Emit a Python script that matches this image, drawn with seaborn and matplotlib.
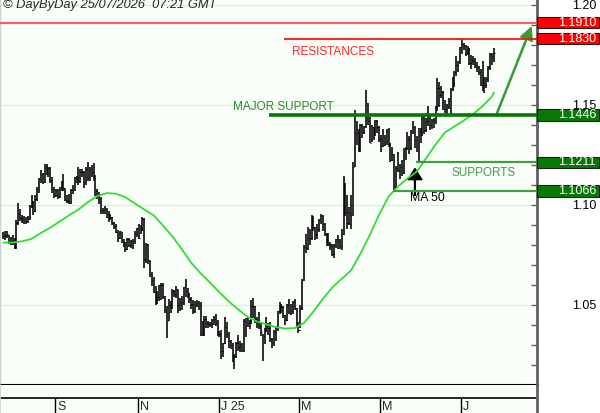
import numpy as np
import pandas as pd
import matplotlib
matplotlib.use("Agg")
import matplotlib.pyplot as plt
import matplotlib.transforms as mtransforms
from matplotlib.patches import Rectangle
import seaborn as sns

# daily bars, first session 24/07/2024 (one line per week)
highs = [
    1.0865, 1.0869, 1.0870,
    1.0848, 1.0840, 1.0848, 1.0833, 1.0925,
    1.1009, 1.0978, 1.0950, 1.0945, 1.0938,
    1.0945, 1.1000, 1.1047, 1.1018, 1.1048,
    1.1090, 1.1134, 1.1174, 1.1160, 1.1201,
    1.1202, 1.1190, 1.1188, 1.1140, 1.1090,
    1.1080, 1.1080, 1.1090, 1.1120, 1.1155,
    1.1080, 1.1050, 1.1055, 1.1080, 1.1100,
    1.1140, 1.1145, 1.1190, 1.1180, 1.1180,
    1.1170, 1.1190, 1.1214, 1.1190, 1.1200,
    1.1209, 1.1150, 1.1080, 1.1065, 1.1040,
    1.0985, 1.0995, 1.0985, 1.0970, 1.0955,
    1.0940, 1.0915, 1.0905, 1.0875, 1.0870,
    1.0865, 1.0830, 1.0815, 1.0835, 1.0835,
    1.0825, 1.0830, 1.0870, 1.0885, 1.0905,
    1.0900, 1.0937, 1.0935, 1.0810, 1.0805,
    1.0725, 1.0665, 1.0640, 1.0595, 1.0570,
    1.0600, 1.0610, 1.0610, 1.0545, 1.0495,
    1.0530, 1.0520, 1.0580, 1.0575, 1.0595,
    1.0575, 1.0535, 1.0545, 1.0590, 1.0630,
    1.0585, 1.0560, 1.0540, 1.0525, 1.0520,
    1.0525, 1.0520, 1.0515, 1.0420, 1.0445,
    1.0445, 1.0420, 1.0415, 1.0430, 1.0445,
    1.0455, 1.0425, 1.0370, 1.0375, 1.0310,
    1.0437, 1.0415, 1.0365, 1.0325, 1.0310,
    1.0255, 1.0315, 1.0350, 1.0320, 1.0310,
    1.0430, 1.0435, 1.0440, 1.0425, 1.0521,
    1.0533, 1.0495, 1.0440, 1.0465, 1.0410,
    1.0355, 1.0385, 1.0440, 1.0410, 1.0415,
    1.0335, 1.0375, 1.0395, 1.0470, 1.0515,
    1.0505, 1.0495, 1.0450, 1.0505, 1.0528,
    1.0505, 1.0520, 1.0530, 1.0485, 1.0415,
    1.0500, 1.0630, 1.0800, 1.0855, 1.0890,
    1.0880, 1.0947, 1.0945, 1.0890, 1.0905,
    1.0930, 1.0955, 1.0950, 1.0910, 1.0860,
    1.0860, 1.0815, 1.0805, 1.0805, 1.0830,
    1.0850, 1.0830, 1.0880, 1.1144, 1.1110,
    1.1050, 1.0990, 1.1050, 1.1215, 1.1474,
    1.1420, 1.1380, 1.1405, 1.1405, 1.1395,
    1.1573, 1.1510, 1.1440, 1.1400, 1.1390,
    1.1425, 1.1425, 1.1395, 1.1350, 1.1380,
    1.1350, 1.1380, 1.1385, 1.1310, 1.1290,
    1.1250, 1.1195, 1.1265, 1.1205, 1.1225,
    1.1285, 1.1290, 1.1365, 1.1345, 1.1375,
    1.1420, 1.1395, 1.1345, 1.1385, 1.1385,
    1.1455, 1.1445, 1.1435, 1.1495, 1.1450,
    1.1430, 1.1435, 1.1495, 1.1631, 1.1615,
    1.1595, 1.1570, 1.1525, 1.1505, 1.1535,
    1.1585, 1.1640, 1.1670, 1.1745, 1.1720,
    1.1790, 1.1830, 1.1810, 1.1800, 1.1795,
    1.1785, 1.1750, 1.1745, 1.1735, 1.1715,
    1.1695, 1.1680, 1.1720, 1.1640, 1.1640,
    1.1695, 1.1760, 1.1760, 1.1785,
]
lows = [
    1.0826, 1.0825, 1.0835,
    1.0802, 1.0800, 1.0800, 1.0778, 1.0780,
    1.0900, 1.0918, 1.0910, 1.0905, 1.0905,
    1.0910, 1.0925, 1.0985, 1.0950, 1.0963,
    1.1020, 1.1060, 1.1108, 1.1105, 1.1110,
    1.1150, 1.1140, 1.1110, 1.1060, 1.1035,
    1.1040, 1.1026, 1.1035, 1.1070, 1.1070,
    1.1020, 1.1010, 1.1002, 1.1001, 1.1055,
    1.1070, 1.1110, 1.1100, 1.1110, 1.1140,
    1.1085, 1.1100, 1.1120, 1.1120, 1.1140,
    1.1120, 1.1045, 1.1030, 1.1005, 1.0951,
    1.0955, 1.0955, 1.0935, 1.0915, 1.0925,
    1.0900, 1.0880, 1.0860, 1.0812, 1.0830,
    1.0810, 1.0790, 1.0761, 1.0775, 1.0790,
    1.0785, 1.0780, 1.0805, 1.0840, 1.0830,
    1.0855, 1.0870, 1.0683, 1.0710, 1.0705,
    1.0640, 1.0595, 1.0560, 1.0497, 1.0505,
    1.0520, 1.0525, 1.0530, 1.0460, 1.0335,
    1.0420, 1.0460, 1.0480, 1.0540, 1.0535,
    1.0460, 1.0470, 1.0475, 1.0500, 1.0540,
    1.0535, 1.0510, 1.0480, 1.0455, 1.0460,
    1.0490, 1.0475, 1.0345, 1.0345, 1.0345,
    1.0385, 1.0385, 1.0390, 1.0385, 1.0400,
    1.0395, 1.0345, 1.0340, 1.0226, 1.0240,
    1.0305, 1.0335, 1.0285, 1.0280, 1.0215,
    1.0178, 1.0235, 1.0270, 1.0265, 1.0265,
    1.0265, 1.0340, 1.0390, 1.0380, 1.0405,
    1.0435, 1.0410, 1.0385, 1.0380, 1.0345,
    1.0220, 1.0305, 1.0365, 1.0350, 1.0315,
    1.0285, 1.0295, 1.0320, 1.0370, 1.0455,
    1.0460, 1.0435, 1.0400, 1.0420, 1.0455,
    1.0450, 1.0455, 1.0475, 1.0385, 1.0360,
    1.0385, 1.0475, 1.0620, 1.0760, 1.0775,
    1.0800, 1.0825, 1.0870, 1.0825, 1.0830,
    1.0865, 1.0905, 1.0870, 1.0845, 1.0795,
    1.0795, 1.0775, 1.0745, 1.0735, 1.0785,
    1.0780, 1.0780, 1.0775, 1.0850, 1.0945,
    1.0880, 1.0900, 1.0880, 1.0945, 1.1190,
    1.1300, 1.1265, 1.1265, 1.1335, 1.1355,
    1.1385, 1.1400, 1.1310, 1.1315, 1.1325,
    1.1345, 1.1360, 1.1315, 1.1265, 1.1290,
    1.1295, 1.1300, 1.1290, 1.1215, 1.1220,
    1.1065, 1.1085, 1.1165, 1.1130, 1.1145,
    1.1155, 1.1225, 1.1275, 1.1255, 1.1275,
    1.1355, 1.1285, 1.1265, 1.1211, 1.1310,
    1.1345, 1.1355, 1.1365, 1.1395, 1.1375,
    1.1380, 1.1385, 1.1405, 1.1470, 1.1490,
    1.1535, 1.1475, 1.1460, 1.1445, 1.1480,
    1.1455, 1.1570, 1.1590, 1.1645, 1.1665,
    1.1705, 1.1755, 1.1775, 1.1745, 1.1750,
    1.1700, 1.1680, 1.1700, 1.1685, 1.1665,
    1.1650, 1.1595, 1.1570, 1.1556, 1.1585,
    1.1615, 1.1675, 1.1700, 1.1715,
]
closes = [
    1.0845, 1.0850, 1.0855,
    1.0820, 1.0817, 1.0825, 1.0790, 1.0910,
    1.0952, 1.0932, 1.0924, 1.0920, 1.0918,
    1.0932, 1.0993, 1.1012, 1.0967, 1.1028,
    1.1077, 1.1128, 1.1152, 1.1114, 1.1192,
    1.1160, 1.1184, 1.1121, 1.1077, 1.1048,
    1.1073, 1.1045, 1.1087, 1.1112, 1.1085,
    1.1025, 1.1018, 1.1011, 1.1075, 1.1075,
    1.1133, 1.1131, 1.1118, 1.1161, 1.1163,
    1.1111, 1.1179, 1.1132, 1.1177, 1.1165,
    1.1135, 1.1069, 1.1043, 1.1030, 1.0974,
    1.0975, 1.0980, 1.0940, 1.0935, 1.0937,
    1.0909, 1.0891, 1.0861, 1.0835, 1.0866,
    1.0818, 1.0797, 1.0779, 1.0828, 1.0797,
    1.0818, 1.0817, 1.0856, 1.0884, 1.0834,
    1.0877, 1.0930, 1.0730, 1.0801, 1.0719,
    1.0654, 1.0624, 1.0565, 1.0530, 1.0540,
    1.0597, 1.0596, 1.0543, 1.0473, 1.0418,
    1.0496, 1.0489, 1.0567, 1.0555, 1.0577,
    1.0497, 1.0507, 1.0513, 1.0587, 1.0567,
    1.0553, 1.0527, 1.0501, 1.0467, 1.0500,
    1.0510, 1.0494, 1.0353, 1.0366, 1.0430,
    1.0407, 1.0403, 1.0403, 1.0424, 1.0427,
    1.0408, 1.0354, 1.0354, 1.0266, 1.0308,
    1.0388, 1.0351, 1.0317, 1.0300, 1.0244,
    1.0245, 1.0307, 1.0289, 1.0301, 1.0271,
    1.0418, 1.0432, 1.0408, 1.0414, 1.0495,
    1.0493, 1.0430, 1.0424, 1.0392, 1.0362,
    1.0344, 1.0380, 1.0403, 1.0383, 1.0330,
    1.0307, 1.0361, 1.0384, 1.0466, 1.0493,
    1.0487, 1.0446, 1.0422, 1.0498, 1.0459,
    1.0467, 1.0515, 1.0485, 1.0398, 1.0375,
    1.0484, 1.0623, 1.0790, 1.0785, 1.0833,
    1.0835, 1.0919, 1.0888, 1.0855, 1.0879,
    1.0923, 1.0944, 1.0903, 1.0852, 1.0816,
    1.0801, 1.0791, 1.0754, 1.0800, 1.0829,
    1.0817, 1.0794, 1.0852, 1.1052, 1.0961,
    1.0909, 1.0958, 1.0950, 1.1190, 1.1358,
    1.1357, 1.1285, 1.1398, 1.1364, 1.1393,
    1.1510, 1.1420, 1.1310, 1.1390, 1.1363,
    1.1420, 1.1386, 1.1329, 1.1292, 1.1298,
    1.1315, 1.1370, 1.1302, 1.1225, 1.1254,
    1.1090, 1.1185, 1.1172, 1.1190, 1.1162,
    1.1242, 1.1285, 1.1328, 1.1284, 1.1365,
    1.1386, 1.1325, 1.1291, 1.1370, 1.1347,
    1.1444, 1.1371, 1.1416, 1.1446, 1.1396,
    1.1420, 1.1425, 1.1488, 1.1585, 1.1548,
    1.1562, 1.1480, 1.1480, 1.1495, 1.1523,
    1.1580, 1.1610, 1.1664, 1.1700, 1.1719,
    1.1786, 1.1804, 1.1798, 1.1760, 1.1780,
    1.1710, 1.1725, 1.1720, 1.1700, 1.1690,
    1.1664, 1.1598, 1.1637, 1.1597, 1.1626,
    1.1690, 1.1753, 1.1745, 1.1760,
]

# 50-day moving average, read every 5th session (+ last one)
ma_step = 5
ma50 = [
    1.0810, 1.0810, 1.0816, 1.0828, 1.0858, 1.0884, 1.0915, 1.0946, 1.0975, 1.1012,
    1.1042, 1.1057, 1.1054, 1.1036, 1.1005, 1.0975, 1.0946, 1.0894, 1.0840, 1.0776,
    1.0708, 1.0656, 1.0609, 1.0561, 1.0515, 1.0475, 1.0438, 1.0415, 1.0401, 1.0387,
    1.0380, 1.0382, 1.0408, 1.0465, 1.0528, 1.0585, 1.0628, 1.0670, 1.0754, 1.0848,
    1.0950, 1.1040, 1.1090, 1.1130, 1.1165, 1.1232, 1.1300, 1.1360, 1.1390, 1.1420,
    1.1452, 1.1492, 1.1540, 1.1560,
]

price_ticks = [1.05, 1.10, 1.15, 1.20]
price_labels = ["1.05", "1.10", "1.15", "1.20"]
month_labels = ["S", "N", "J 25", "M", "M", "J"]
label_months = [9, 11, 1, 3, 5, 7]

levels = [1.1910, 1.1830, 1.1446, 1.1211, 1.1066]
level_text = ["1.1910", "1.1830", "1.1446", "1.1211", "1.1066"]
level_kind = ["res", "res", "major", "sup", "sup"]
level_start = [-2, 149.3, 141.4, 219.5, 207.5]

sns.set_theme(style="white")
plt.rcParams["font.family"] = ["Liberation Sans", "DejaVu Sans"]

n = len(closes)
df = pd.DataFrame({
    "date": pd.bdate_range("2024-07-24", periods=n),
    "pos": np.arange(n),
    "high": highs,
    "low": lows,
    "close": closes,
})
ma_pos = np.r_[np.arange(0, n, ma_step), n - 1]

bg = "#f9fef9"
line_style = {
    "res": [("#f06464", 1.6), ("#ff1010", 1.3)],
    "major": ("#067806", 2.6),
    "sup": ("#3f9f3f", 1.6),
}
box_color = {"res": "#ff0000", "major": "#087808", "sup": "#087808"}

fig = plt.figure(figsize=(6, 4.13), dpi=100)
fig.patch.set_facecolor("white")
ax = fig.add_axes([0, 28 / 413, 537 / 600, 385 / 413])
ax.set_facecolor(bg)

xlim = (-1.76, 283.95)
ax.set_xlim(*xlim)
ax.set_ylim(1.00975, 1.20225)

for v in price_ticks:
    ax.axhline(v, color="#d2f3d2", lw=0.8, zorder=0)

# price bars
ax.vlines(df["pos"], df["low"], df["high"], color="black", lw=1.15, zorder=3)
ax.hlines(df["close"], df["pos"], df["pos"] + 0.7, color="black", lw=0.8, zorder=3)

sns.lineplot(x=ma_pos, y=ma50, ax=ax, color="#33dd33", lw=1.3, zorder=4)

# support / resistance levels
res_i = 0
trans = mtransforms.blended_transform_factory(ax.transAxes, ax.transData)
for v, txt, kind, x0 in zip(levels, level_text, level_kind, level_start):
    if kind == "res":
        c, lw = line_style["res"][res_i]
        res_i += 1
    else:
        c, lw = line_style[kind]
    ax.hlines(v, x0, xlim[1], color=c, lw=lw, zorder=5)
    ax.add_patch(Rectangle((1.0, v - 0.0029), 62 / 537, 0.0058, transform=trans,
                           facecolor=box_color[kind], edgecolor="#202020", lw=0.8,
                           clip_on=False, zorder=6))
    ax.text(596 / 537, v, txt, transform=trans, ha="right", va="center",
            color="white", fontsize=9, clip_on=False, zorder=7)

ax.text(153.6, 1.1762, "RESISTANCES", color="#ff2a2a", fontsize=8.5, va="center")
ax.text(122.2, 1.1488, "MAJOR SUPPORT", color="#2a8a2a", fontsize=8.5, va="center")
ax.text(238.7, 1.1158, "SUPPORTS", color="#40a040", fontsize=8.5, va="center")
ax.text(216.4, 1.1032, "MA 50", color="black", fontsize=8.8, va="center")

ax.annotate("", xy=(219.0, 1.1180), xytext=(219.0, 1.1046),
            arrowprops=dict(facecolor="black", edgecolor="black", width=0.6,
                            headwidth=10, headlength=8, shrink=0))
ax.annotate("", xy=(280.8, 1.1885), xytext=(262.7, 1.1457), annotation_clip=False,
            arrowprops=dict(facecolor="#3a9a3a", edgecolor="#3a9a3a", width=0.8,
                            headwidth=9, headlength=9, shrink=0))

# right price axis
ax.set_xticks([])
ax.yaxis.tick_right()
ax.set_yticks(price_ticks)
ax.set_yticklabels(price_labels)
ax.set_yticks(np.arange(1.01, 1.205, 0.01), minor=True)
ax.tick_params(axis="y", which="both", direction="in", length=4, width=1,
               color="#606060", pad=43, labelsize=9, labelcolor="black")
for lab in ax.get_yticklabels():
    lab.set_horizontalalignment("right")

ax.spines["top"].set_visible(False)
ax.spines["left"].set_color("#d0d0d0")
ax.spines["left"].set_linewidth(1)
ax.spines["right"].set_color("#606060")
ax.spines["right"].set_linewidth(2)
ax.spines["bottom"].set_color("black")
ax.spines["bottom"].set_linewidth(1.5)

# month band
ax2 = fig.add_axes([0, 0, 537 / 600, 28 / 413])
ax2.set_facecolor(bg)
ax2.set_xlim(*xlim)
ax2.set_ylim(0, 1)
ax2.set_xticks([])
ax2.set_yticks([])
ax2.axhline(0.536, color="black", lw=1.2)
month = df["date"].dt.month.values
bounds = [i - 0.5 for i in range(1, n) if month[i] != month[i - 1] and month[i] in label_months]
ax2.vlines(bounds, 0, 0.536, color="black", lw=1.0)
for b, lab in zip(bounds, month_labels):
    ax2.text(b + 1.1, 0.22, lab, fontsize=9, va="center", ha="left")
for s in ["top", "bottom"]:
    ax2.spines[s].set_visible(False)
ax2.spines["left"].set_color("#d0d0d0")
ax2.spines["right"].set_color("#606060")
ax2.spines["right"].set_linewidth(2)

fig.text(3 / 600, 1 - 5 / 413, "\u00a9 DayByDay 25/07/2026  07:21 GMT",
         fontsize=9.3, style="italic", va="center", ha="left")

fig.savefig("out.png", dpi=100, facecolor="white")
